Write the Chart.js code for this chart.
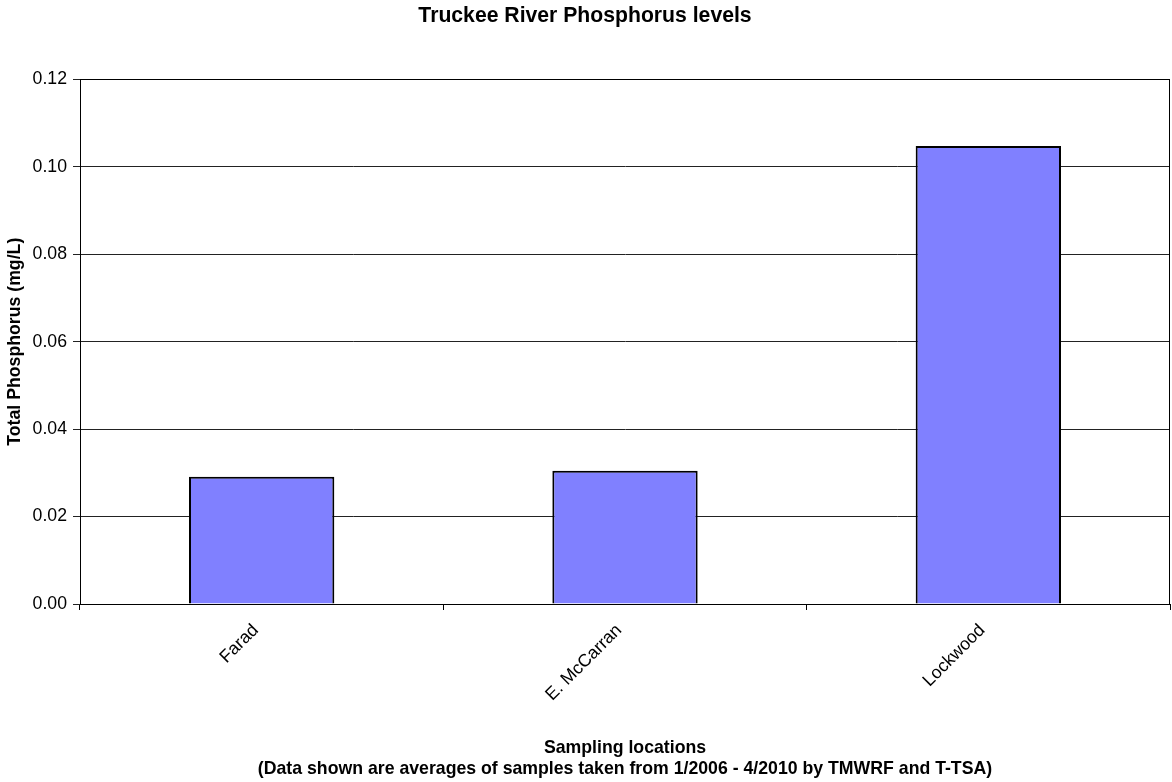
<!DOCTYPE html>
<html>
<head>
<meta charset="utf-8">
<title>Truckee River Phosphorus levels</title>
<script src="https://cdn.jsdelivr.net/npm/chart.js@4/dist/chart.umd.min.js"></script>
<style>
  html, body { margin: 0; padding: 0; background: #fff; }
  #wrap { width: 1172px; height: 782px; }
</style>
</head>
<body>
<div id="wrap"><canvas id="chart" width="1172" height="782"></canvas></div>
<script>
// Sampling sites and average total phosphorus (mg/L)
const locations = ['Farad', 'E. McCarran', 'Lockwood'];
const phosphorus = [0.0291, 0.0305, 0.1048];

// Value axis range and tick spacing
const yMin = 0;
const yMax = 0.12;
const yStep = 0.02;

const chartTitle = 'Truckee River Phosphorus levels';
const yTitle = 'Total Phosphorus (mg/L)';
const xTitle = ['Sampling locations', '(Data shown are averages of samples taken from 1/2006 - 4/2010 by TMWRF and T-TSA)'];

const FONT = '"Liberation Sans", Arial, sans-serif';
const LABEL_SIZE = 17.7;
const TITLE_SIZE = 21.2;

// Frame drawn around the plotting area
const plotFrame = {
  id: 'plotFrame',
  afterDatasetsDraw(chart) {
    const { ctx, chartArea: a } = chart;
    ctx.save();
    ctx.strokeStyle = '#000';
    ctx.lineWidth = 1;
    ctx.strokeRect(Math.round(a.left) + 0.5, Math.round(a.top) + 0.5,
                   Math.round(a.right - a.left) - 1, Math.round(a.bottom - a.top));
    ctx.restore();
  }
};

new Chart(document.getElementById('chart'), {
  type: 'bar',
  data: {
    labels: locations,
    datasets: [{
      data: phosphorus,
      backgroundColor: '#8080FF',
      borderColor: '#000',
      borderWidth: 2,
      barPercentage: 0.4,
      categoryPercentage: 1.0
    }]
  },
  options: {
    responsive: false,
    animation: false,
    layout: { padding: { left: 0, right: 2, top: 0, bottom: 0 } },
    plugins: {
      legend: { display: false },
      tooltip: { enabled: false },
      title: {
        display: true,
        text: chartTitle,
        color: '#000',
        font: { family: FONT, size: TITLE_SIZE, weight: 'bold', lineHeight: 1.2 },
        padding: { top: 3, bottom: 51 }
      }
    },
    scales: {
      x: {
        offset: true,
        afterFit(scale) { scale.height = 178; },
        border: { display: true, color: '#000', width: 1 },
        grid: {
          offset: true,
          drawOnChartArea: false,
          drawTicks: true,
          tickLength: 6,
          color: '#000'
        },
        ticks: {
          color: '#000',
          font: { family: FONT, size: LABEL_SIZE },
          minRotation: 45,
          maxRotation: 45,
          padding: 10,
          labelOffset: -6
        },
        title: {
          display: true,
          text: xTitle,
          color: '#000',
          font: { family: FONT, size: LABEL_SIZE, weight: 'bold', lineHeight: 1.2 },
          padding: { top: 0, bottom: 2.5 }
        }
      },
      y: {
        min: yMin,
        max: yMax,
        afterFit(scale) { scale.width = 80; },
        border: { display: true, color: '#000', width: 1 },
        grid: {
          color: '#222',
          lineWidth: 1,
          tickLength: 7,
          drawTicks: true
        },
        ticks: {
          stepSize: yStep,
          color: '#000',
          font: { family: FONT, size: LABEL_SIZE },
          padding: 6,
          callback: v => Number(v).toFixed(2)
        },
        title: {
          display: true,
          text: yTitle,
          color: '#000',
          font: { family: FONT, size: LABEL_SIZE, weight: 'bold', lineHeight: 1.2 },
          padding: { top: 4.5, bottom: 0 }
        }
      }
    }
  },
  plugins: [plotFrame]
});
</script>
</body>
</html>
